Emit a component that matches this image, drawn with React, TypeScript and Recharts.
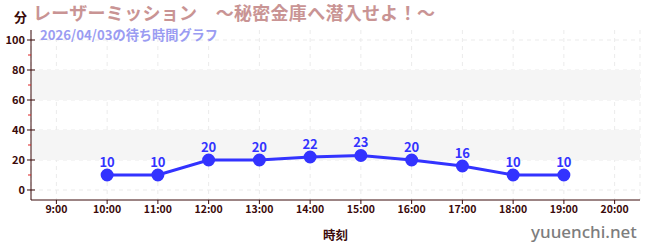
import React from 'react'
import {
  LineChart,
  Line,
  XAxis,
  YAxis,
  CartesianGrid,
  ReferenceArea,
  LabelList,
} from 'recharts'

const hours = [10, 11, 12, 13, 14, 15, 16, 17, 18, 19]
const waits = [10, 10, 20, 20, 22, 23, 20, 16, 10, 10]
const xTicks = [9, 10, 11, 12, 13, 14, 15, 16, 17, 18, 19, 20]
const yTicks = [0, 10, 20, 30, 40, 50, 60, 70, 80, 90, 100]
const bands = [
  [20, 40],
  [60, 80],
]

const data = hours.map((h, i) => ({ hour: h, wait: waits[i] }))

const FONT = '"Noto Sans CJK JP", "Noto Sans", sans-serif'
const DARK = '#3a0a0a'

// y ticks: labels every 20, small red ticks in between
const YTick = (props: any) => {
  const { y, payload } = props
  const v = payload.value
  const major = v % 20 === 0
  const axisX = 31
  return (
    <g>
      <line
        x1={axisX - (major ? 4 : 3)}
        x2={axisX + (major ? 4 : 0)}
        y1={y}
        y2={y}
        stroke={major ? DARK : '#dd2222'}
        strokeWidth={1}
      />
      {major && (
        <text x={axisX - 6} y={y} dy={4} textAnchor="end" fontSize={11} fontWeight={600} fill={DARK} fontFamily={FONT}>
          {v}
        </text>
      )}
    </g>
  )
}

export default function App() {
  return (
    <div style={{ position: 'absolute', left: 0, top: 0, width: 650, height: 250, background: '#fff', fontFamily: FONT }}>
      <LineChart
        width={650}
        height={250}
        data={data}
        margin={{ top: 30, right: 10, left: 0, bottom: 0 }}
      >
        {bands.map(([a, b]) => (
          <ReferenceArea key={a} y1={a} y2={b} fill="#f5f5f5" fillOpacity={1} stroke="none" />
        ))}
        <CartesianGrid strokeDasharray="4 4" stroke="#ebebeb" horizontalValues={[0, 20, 40, 60, 80, 100]} />
        <XAxis
          type="number"
          dataKey="hour"
          domain={[8.5, 20.5]}
          ticks={xTicks}
          tickFormatter={(h: number) => `${h}:00`}
          stroke={DARK}
          tick={{ fontSize: 10.5, fontWeight: 600, fill: DARK, fontFamily: FONT }}
          tickSize={4}
          height={50}
          label={{ value: '時刻', position: 'insideBottom', offset: 10, fontSize: 12.5, fontWeight: 'bold', fill: DARK, fontFamily: FONT }}
        />
        <YAxis
          type="number"
          domain={[-6.67, 106.67]}
          ticks={yTicks}
          width={31}
          stroke={DARK}
          tickLine={false}
          tick={<YTick />}
          interval={0}
        />
        <Line
          type="linear"
          dataKey="wait"
          stroke="#3333ff"
          strokeWidth={3}
          dot={{ r: 5, fill: '#3333ff', stroke: '#3333ff' }}
          isAnimationActive={false}
        >
          <LabelList dataKey="wait" position="top" offset={8} fill="#3333ff" fontSize={13} fontWeight="bold" fontFamily={FONT} />
        </Line>
      </LineChart>
      <div style={{ position: 'absolute', left: 14, top: 10, fontSize: 13, lineHeight: 1, fontWeight: 'bold', color: DARK }}>分</div>
      <div style={{ position: 'absolute', left: 33, top: 3, fontSize: 18, lineHeight: 1, fontWeight: 'bold', color: '#c99494', whiteSpace: 'pre', letterSpacing: 0.3 }}>
        レーザーミッション　～秘密金庫へ潜入せよ！～
      </div>
      <div style={{ position: 'absolute', left: 40, top: 28, fontSize: 13.2, lineHeight: 1, fontWeight: 'bold', color: '#9a9cf2', whiteSpace: 'pre' }}>
        2026/04/03の待ち時間グラフ
      </div>
      <div style={{ position: 'absolute', left: 531, top: 223, fontSize: 17, lineHeight: 1, fontWeight: 500, color: '#7d7d7d', fontFamily: '"Noto Sans", sans-serif' }}>
        yuuenchi.net
      </div>
    </div>
  )
}
